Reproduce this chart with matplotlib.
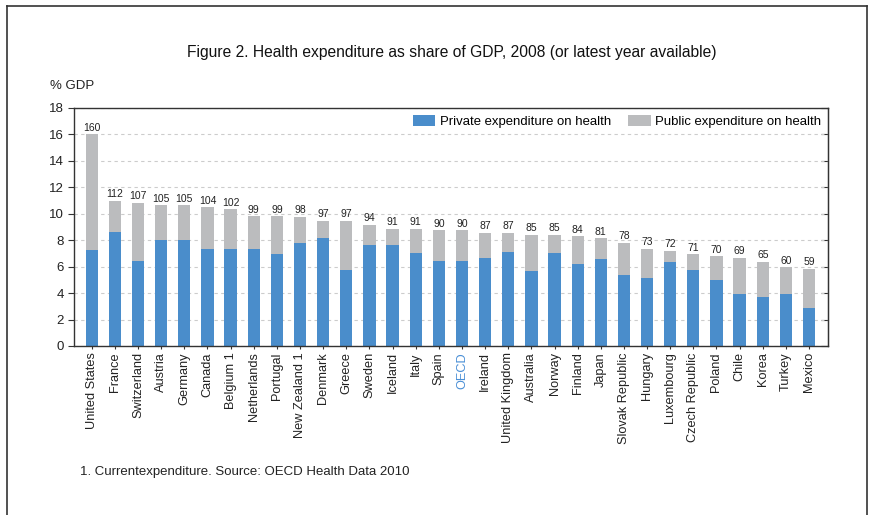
import numpy as np
import matplotlib.pyplot as plt
from matplotlib.lines import Line2D

plt.rcParams['font.family'] = ['Liberation Sans', 'DejaVu Sans']

# Данные
countries = ['United States', 'France', 'Switzerland', 'Austria', 'Germany', 'Canada',
             'Belgium 1', 'Netherlands', 'Portugal', 'New Zealand 1', 'Denmark', 'Greece',
             'Sweden', 'Iceland', 'Italy', 'Spain', 'OECD', 'Ireland', 'United Kingdom',
             'Australia', 'Norway', 'Finland', 'Japan', 'Slovak Republic', 'Hungary',
             'Luxembourg', 'Czech Republic', 'Poland', 'Chile', 'Korea', 'Turkey', 'Mexico']
total = [16.0, 11.0, 10.85, 10.65, 10.65, 10.5, 10.35, 9.8, 9.8, 9.75, 9.45, 9.45,
         9.15, 8.85, 8.85, 8.75, 8.75, 8.55, 8.55, 8.4, 8.4, 8.3, 8.15, 7.8,
         7.35, 7.2, 6.95, 6.8, 6.65, 6.35, 5.95, 5.85]
private = [7.25, 8.6, 6.4, 8.0, 8.0, 7.3, 7.3, 7.3, 6.95, 7.8, 8.15, 5.75,
           7.65, 7.65, 7.05, 6.45, 6.45, 6.65, 7.1, 5.65, 7.05, 6.2, 6.6, 5.35,
           5.15, 6.35, 5.75, 5.0, 3.95, 3.7, 3.95, 2.85]
index_labels = [160, 112, 107, 105, 105, 104, 102, 99, 99, 98, 97, 97,
                94, 91, 91, 90, 90, 87, 87, 85, 85, 84, 81, 78,
                73, 72, 71, 70, 69, 65, 60, 59]

blue = '#4a8dcb'
grey = '#bbbcbe'
dark = '#333333'

total = np.array(total)
private = np.array(private)
public = total - private
x = np.arange(len(countries))

fig = plt.figure(figsize=(8.7, 5.15), dpi=100)
ax = fig.add_axes([74 / 870, 1 - 346 / 515, (828 - 74) / 870, (346 - 108) / 515])

ax.bar(x, private, width=0.53, color=blue, label='Private expenditure on health', zorder=2)
ax.bar(x, public, width=0.53, bottom=private, color=grey,
       label='Public expenditure on health', zorder=2)

for xi, t, lab in zip(x, total, index_labels):
    ax.text(xi, t + 0.12, str(lab), ha='center', va='bottom', fontsize=7.5, color='#222222')

ax.set_xlim(-0.77, len(countries) - 1 + 0.82)
ax.set_ylim(0, 18)
ax.set_yticks(np.arange(0, 19, 2))
ax.set_xticks(x)
ax.set_xticklabels(countries, rotation=90, fontsize=9.2, color='#222222')
for lbl in ax.get_xticklabels():
    if lbl.get_text() == 'OECD':
        lbl.set_color('#4a8fd6')
ax.tick_params(axis='y', labelsize=9.5, colors=dark, labelcolor='#222222',
               direction='out', length=4)
ax.tick_params(axis='x', direction='inout', length=5, color=dark, pad=2)

# засечки справа внутрь
sec = ax.secondary_yaxis('right')
sec.set_yticks(np.arange(0, 19, 2))
sec.tick_params(direction='in', length=5, color=dark, labelright=False)
sec.spines['right'].set_color(dark)

ax.yaxis.grid(True, linestyle=(0, (3, 3)), color='#cccccc', linewidth=0.8, zorder=0)
ax.set_axisbelow(True)
for s in ax.spines.values():
    s.set_color(dark)
    s.set_linewidth(1.0)

ax.legend(loc='upper right', ncol=2, frameon=False, fontsize=9.45, handlelength=1.75,
          handleheight=1.0, columnspacing=1.25, handletextpad=0.35,
          bbox_to_anchor=(1.0, 1.0), borderaxespad=0.1)

fig.text(452 / 870, 1 - 52 / 515, 'Figure 2. Health expenditure as share of GDP, 2008 (or latest year available)',
         ha='center', va='center', fontsize=11.25, color='#111111')
fig.text(50 / 870, 1 - 86 / 515, '% GDP', ha='left', va='center', fontsize=9.5, color='#222222')
fig.text(80 / 870, 1 - 472 / 515, '1. Currentexpenditure. Source: OECD Health Data 2010',
         ha='left', va='center', fontsize=9.5, color='#222222')

# рамка вокруг рисунка (без нижней линии)
fig.add_artist(Line2D([7.5 / 870, 867 / 870], [1 - 6 / 515, 1 - 6 / 515], color=dark, lw=1.2))
fig.add_artist(Line2D([7.5 / 870, 7.5 / 870], [0, 1 - 6 / 515], color=dark, lw=1.2))
fig.add_artist(Line2D([867 / 870, 867 / 870], [0, 1 - 6 / 515], color=dark, lw=1.2))

fig.savefig('out.png', dpi=100)
